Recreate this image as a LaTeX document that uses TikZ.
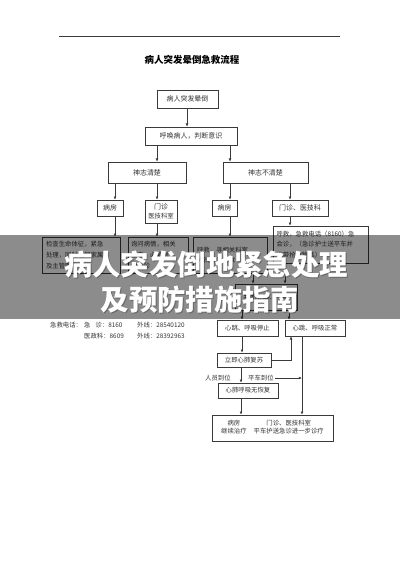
\documentclass[tikz,border=0pt]{standalone}
\usepackage{fontspec}
\setmainfont{Noto Sans CJK SC}
\usetikzlibrary{arrows.meta,calc}
\definecolor{linec}{HTML}{3A3A3A}
\definecolor{txtc}{HTML}{333333}
\begin{document}
\begin{tikzpicture}[x=1bp,y=-1bp,
  box/.style={draw=linec, line width=0.6bp, inner sep=0pt, text=txtc, font=\fontsize{7}{8.5}\selectfont, align=center},
  sbox/.style={box, font=\fontsize{6.4}{10.8}\selectfont, align=left},
  lbl/.style={inner sep=0pt, text=txtc, font=\fontsize{6.4}{7}\selectfont, anchor=west},
  arr/.style={draw=linec, line width=0.6bp, -{Latex[length=3.2bp,width=2.8bp]}},
  ln/.style={draw=linec, line width=0.6bp}]
\useasboundingbox (0,0) rectangle (400,566);
\fill[white] (0,0) rectangle (400,566);
% top rule
\coordinate (r1) at (59,36); \coordinate (r2) at (340,36);
\draw[draw=linec, line width=0.7bp] (r1) -- (r2);
\node[inner sep=0pt, text=black, font=\fontsize{9.5}{10}\selectfont\bfseries] (title) at (192,60) {病人突发晕倒急救流程};
% x guides
\foreach \xx in {115,157,187,230,241,242,253,285,289,290,291,302}{\coordinate (x\xx) at (\xx,0);}
% boxes
\node[box, minimum width=61bp, minimum height=18bp] (b1) at (187.5,99) {病人突发晕倒};
\node[box, minimum width=92bp, minimum height=18bp] (b2) at (191,136) {呼唤病人，判断意识};
\node[box, minimum width=78bp, minimum height=21bp] (b3) at (147,172.5) {神志清楚};
\node[box, minimum width=85bp, minimum height=21bp] (b4) at (265.5,172.5) {神志不清楚};
\node[box, minimum width=26bp, minimum height=16bp] (b5) at (110,208) {病房};
\node[box, minimum width=32bp, minimum height=23bp, font=\fontsize{7}{9}\selectfont] (b6) at (161,211.5) {门诊\\{\fontsize{6.4}{7}\selectfont 医技科室}};
\node[box, minimum width=25bp, minimum height=16bp] (b7) at (224.5,208) {病房};
\node[box, minimum width=56bp, minimum height=16bp] (b8) at (300,208) {门诊、医技科};
\node[sbox, minimum width=78bp, minimum height=36bp, text width=70bp] (b9) at (81,255) {检查生命体征，紧急\\处理，同时通知家属\\及主管医生};
\node[sbox, minimum width=60bp, minimum height=36bp, text width=54bp] (b10) at (158,255) {询问病情，相关\\检查，必要时\\请会诊};
\node[sbox, minimum width=74bp, minimum height=36bp, text width=66bp] (b11) at (230,255) {呼救，寻相关科室\\人员协助抢救};
\node[sbox, minimum width=95bp, minimum height=37bp, text width=88bp, font=\fontsize{6.4}{10.5}\selectfont] (b12) at (320.5,244.5) {呼救，急救电话（8160）急\\会诊，（急诊护士送平车并\\携带抢救物品）};
\node[box, minimum width=62bp, minimum height=26bp, font=\fontsize{6.4}{8}\selectfont] (b13) at (266,297) {判断心跳、呼吸};
\node[box, minimum width=61bp, minimum height=16bp, font=\fontsize{6.4}{7}\selectfont] (b14) at (247.5,328) {心跳、呼吸停止};
\node[box, minimum width=60bp, minimum height=16bp, font=\fontsize{6.4}{7}\selectfont] (b15) at (315,328) {心跳、呼吸正常};
\node[box, minimum width=54bp, minimum height=14bp, font=\fontsize{6.4}{7}\selectfont] (b16) at (244,360) {立即心肺复苏};
\node[box, minimum width=60bp, minimum height=15bp, font=\fontsize{6.4}{7}\selectfont] (b17) at (248,390.5) {心肺呼吸无恢复};
\node[box, minimum width=121bp, minimum height=26bp, font=\fontsize{6.4}{9}\selectfont] (b18) at (272.5,428) {\begin{tabular}{@{}c@{\hspace{7bp}}c@{}}病房 & 门诊、医技科室\\[-1bp] 继续治疗 & 平车护送急诊进一步诊疗\end{tabular}};
% labels
\node[lbl] (lr) at (205,378) {人员到位};
\node[lbl] (lp) at (248,378) {平车到位};
\node[lbl] (p1) at (50,325) {急救电话：};
\node[lbl] (p2) at (84,325) {急\hspace{5bp}诊：8160};
\node[lbl] (p3) at (137,325) {外线：28540120};
\node[lbl] (p4) at (84,336) {医政科：8609};
\node[lbl] (p5) at (137,336) {外线：28392963};
% connectors
\draw[arr] (b1.south -| x187) -- (b2.north -| x187);
\draw[arr] (b2.south -| x157) -- (b3.north -| x157);
\draw[arr] (b2.south -| x230) -- (b4.north -| x230);
\draw[arr] (b3.south -| x115) -- (b5.north -| x115);
\draw[arr] (b3.south -| x157) -- (b6.north -| x157);
\draw[arr] (b4.south -| x230) -- (b7.north -| x230);
\draw[arr] (b4.south -| x290) -- (b8.north -| x290);
\draw[arr] (b5.south -| x115) -- (b9.north -| x115);
\draw[arr] (b6.south -| x157) -- (b10.north -| x157);
\draw[arr] (b7.south -| x230) -- (b11.north -| x230);
\draw[arr] (b8.south -| x290) -- (b12.north -| x290);
\draw[arr] (b11.south -| x253) -- (b13.north -| x253);
\draw[arr] (b12.south -| x285) -- (b13.north -| x285);
\draw[arr] (b13.south -| x242) -- (b14.north -| x242);
\draw[arr] (b13.south -| x289) -- (b15.north -| x289);
\draw[arr] (b14.south -| x242) -- (b16.north -| x242);
\draw[arr] (b16.south -| x241) -- (b17.north -| x241);
\draw[arr] (b17.south -| x241) -- (b18.north -| x241);
\draw[arr] (b16.east) -| (b15.south -| x291);
\draw[arr] (b15.south -| x302) -- (b18.north -| x302);
\draw[arr] ($(lp.east)+(1,0)$) -- (lp.east -| x302);
% overlay banner
\fill[black, opacity=0.45] (0,235) rectangle (400,319);
\node[inner sep=0pt, text=black, opacity=0.25, font=\fontsize{28.5}{30}\selectfont\bfseries] at (207,266) {病人突发倒地紧急处理};
\node[inner sep=0pt, text=black, opacity=0.25, font=\fontsize{28.5}{30}\selectfont\bfseries] at (201,301) {及预防措施指南};
\node[inner sep=0pt, text=white, font=\fontsize{28.5}{30}\selectfont\bfseries] (h1) at (206,265) {病人突发倒地紧急处理};
\node[inner sep=0pt, text=white, font=\fontsize{28.5}{30}\selectfont\bfseries] (h2) at (200,300) {及预防措施指南};
\end{tikzpicture}
\end{document}
